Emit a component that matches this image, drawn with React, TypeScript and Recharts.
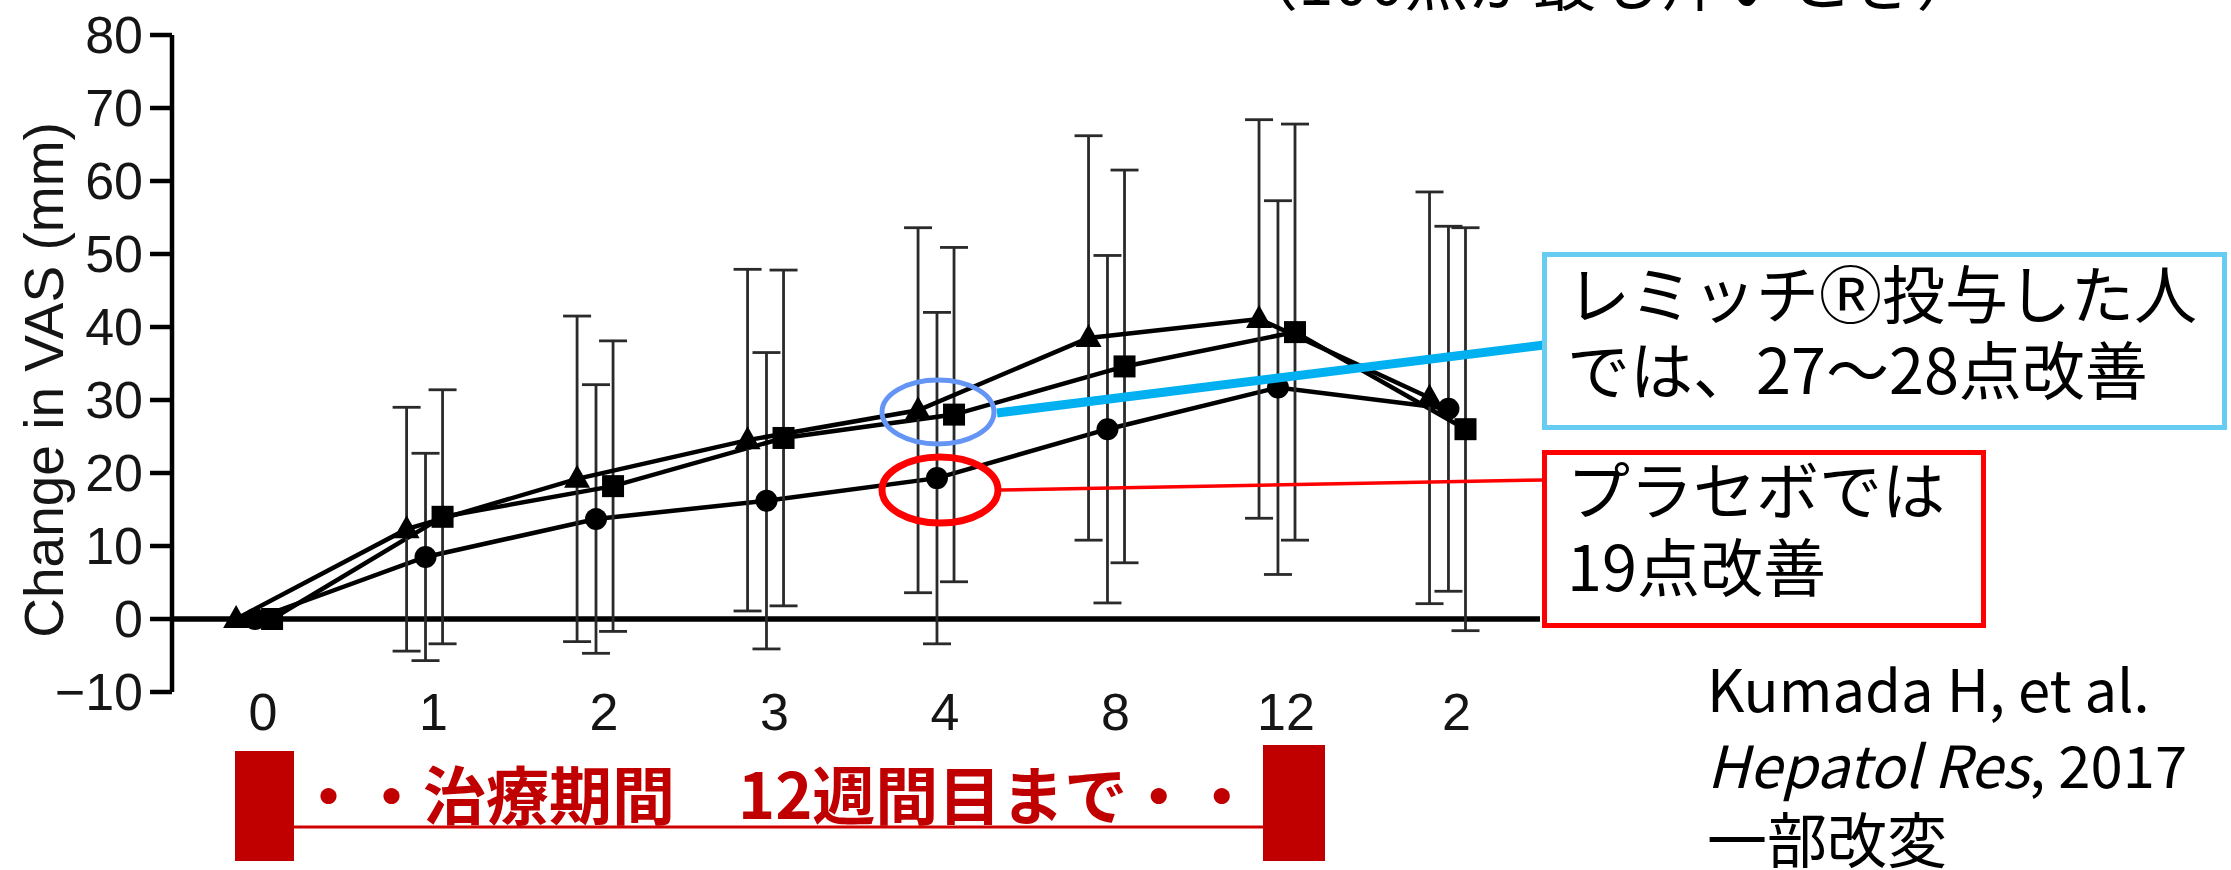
import React from "react";
import { LineChart, Line, XAxis, YAxis, ReferenceLine, ErrorBar } from "recharts";

// weeks on the x axis (last one is the 2-week follow-up after treatment)
const weekLabels = ["0", "1", "2", "3", "4", "8", "12", "2"];
const yTicks = [-10, 0, 10, 20, 30, 40, 50, 60, 70, 80];

// triangle series
const triMean = [0, 12.3, 19.2, 24.5, 28.6, 38.5, 41.1, 30.3];
const triSd = [0, 16.7, 22.3, 23.4, 25.0, 27.7, 27.3, 28.2];
// circle series (placebo)
const circMean = [0, 8.5, 13.7, 16.2, 19.3, 26.0, 31.7, 28.8];
const circSd = [0, 14.2, 18.4, 20.3, 22.7, 23.8, 25.6, 25.0];
// square series
const sqMean = [0, 14.0, 18.2, 24.8, 28.0, 34.6, 39.3, 26.0];
const sqSd = [0, 17.4, 19.9, 23.0, 22.9, 26.9, 28.5, 27.6];

const TRI_SHIFT = -0.158;
const CIRC_SHIFT = -0.047;
const SQ_SHIFT = 0.053;

const build = (mean: number[], sd: number[], shift: number) =>
  mean.map((v, i) => ({ x: i + shift, y: v, sd: sd[i] }));

const triData = build(triMean, triSd, TRI_SHIFT);
const circData = build(circMean, circSd, CIRC_SHIFT);
const sqData = build(sqMean, sqSd, SQ_SHIFT);

const AX = "#151515";
const LATIN = "'Liberation Sans', Arial, sans-serif";
const JP = "'Noto Sans CJK JP', 'Noto Sans', sans-serif";

const triDot = (p: any) => {
  const { cx, cy, index } = p;
  if (cx == null || cy == null) return <g key={`t${index}`} />;
  return <path key={`t${index}`} d={`M${cx},${cy - 14} L${cx + 13},${cy + 9} L${cx - 13},${cy + 9} Z`} fill="#000" />;
};
const circDot = (p: any) => {
  const { cx, cy, index } = p;
  if (cx == null || cy == null) return <g key={`c${index}`} />;
  return <circle key={`c${index}`} cx={cx} cy={cy} r={11} fill="#000" />;
};
const sqDot = (p: any) => {
  const { cx, cy, index } = p;
  if (cx == null || cy == null) return <g key={`s${index}`} />;
  return <rect key={`s${index}`} x={cx - 11} y={cy - 11} width={22} height={22} fill="#000" />;
};

export default function App() {
  return (
    <div style={{ position: "absolute", left: 0, top: 0, width: 2231, height: 870, background: "#fff", overflow: "hidden" }}>
      <LineChart width={2231} height={870} margin={{ top: 35, right: 691, bottom: 118, left: 72 }}>
        <XAxis
          dataKey="x"
          type="number"
          domain={[-0.534, 7.49]}
          allowDataOverflow
          ticks={weekLabels.map((_, i) => i)}
          tickFormatter={(v: number) => weekLabels[v] ?? ""}
          interval={0}
          axisLine={false}
          tickLine={false}
          tickSize={0}
          tickMargin={1}
          height={60}
          tick={{ fill: AX, fontSize: 52, fontFamily: LATIN }}
        />
        <YAxis
          type="number"
          domain={[-10, 80]}
          allowDataOverflow
          ticks={yTicks}
          interval={0}
          tickFormatter={(v: number) => (v < 0 ? `\u2212${-v}` : `${v}`)}
          width={100}
          tickSize={22}
          tickMargin={7}
          axisLine={{ stroke: "#000", strokeWidth: 4.5 }}
          tickLine={{ stroke: "#000", strokeWidth: 4.5 }}
          tick={{ fill: AX, fontSize: 52, fontFamily: LATIN }}
        />
        <ReferenceLine y={0} stroke="#000" strokeWidth={5.5} />
        <Line data={circData} dataKey="y" stroke="#000" strokeWidth={4.5} dot={circDot} activeDot={false} isAnimationActive={false}>
          <ErrorBar dataKey="sd" width={14} stroke="#2a2a2a" strokeWidth={2.8} direction="y" />
        </Line>
        <Line data={sqData} dataKey="y" stroke="#000" strokeWidth={4.5} dot={sqDot} activeDot={false} isAnimationActive={false}>
          <ErrorBar dataKey="sd" width={14} stroke="#2a2a2a" strokeWidth={2.8} direction="y" />
        </Line>
        <Line data={triData} dataKey="y" stroke="#000" strokeWidth={4.5} dot={triDot} activeDot={false} isAnimationActive={false}>
          <ErrorBar dataKey="sd" width={14} stroke="#2a2a2a" strokeWidth={2.8} direction="y" />
        </Line>
      </LineChart>

      <svg width={2231} height={870} style={{ position: "absolute", left: 0, top: 0, pointerEvents: "none" }}>
        <text x={44} y={380} transform="rotate(-90 44 380)" textAnchor="middle" dominantBaseline="central" fill={AX} fontSize={55} fontFamily={LATIN}>
          Change in VAS (mm)
        </text>

        <text x={1234} y={5} fill="#000" fontSize={64} fontFamily={JP}>（100点が最も痒いとき）</text>

        {/* blue callout */}
        <line x1={997} y1={413} x2={1544} y2={345} stroke="#00B0F0" strokeWidth={9} />
        <ellipse cx={938} cy={412} rx={56} ry={32} fill="none" stroke="#6495F5" strokeWidth={5} />
        <rect x={1544.5} y={254.5} width={680} height={173} fill="#fff" stroke="#66CCF2" strokeWidth={5} />
        <text x={1567} y={318} fill="#000" fontSize={63} fontFamily={JP}>レミッチⓇ投与した人</text>
        <text x={1567} y={394} fill="#000" fontSize={63} fontFamily={JP}>では、27～28点改善</text>

        {/* red callout */}
        <line x1={999} y1={490} x2={1544} y2={480} stroke="#FF0000" strokeWidth={3.5} />
        <ellipse cx={940} cy={490} rx={58} ry={33} fill="none" stroke="#FF0000" strokeWidth={7} />
        <rect x={1544.5} y={452.5} width={439} height={173} fill="#fff" stroke="#FF0000" strokeWidth={5} />
        <text x={1567} y={514} fill="#000" fontSize={63} fontFamily={JP}>プラセボでは</text>
        <text x={1567} y={591} fill="#000" fontSize={63} fontFamily={JP}>19点改善</text>

        {/* citation */}
        <text x={1707} y={712} fill="#000" fontSize={58} fontFamily={JP}>Kumada H, et al.</text>
        <text x={1707} y={788} fill="#000" fontSize={58} fontFamily={JP}>
          <tspan fontStyle="italic">Hepatol Res</tspan>, 2017
        </text>
        <text x={1707} y={863} fill="#000" fontSize={60} fontFamily={JP}>一部改変</text>

        {/* treatment period bar */}
        <rect x={235} y={751} width={59} height={110} fill="#C00000" />
        <rect x={1263} y={745} width={62} height={116} fill="#C00000" />
        <line x1={294} y1={827} x2={1263} y2={827} stroke="#D00000" strokeWidth={3} />
        <text x={297} y={819} fill="#C00000" fontSize={63} fontWeight="bold" fontFamily={JP}>・・治療期間　12週間目まで・・</text>
      </svg>
    </div>
  );
}
